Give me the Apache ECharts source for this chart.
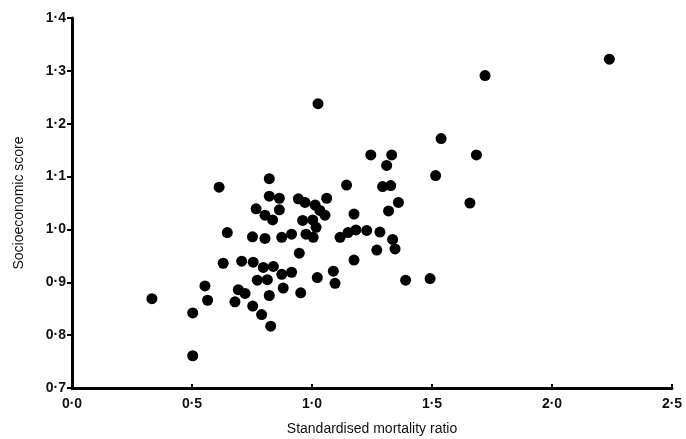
<!DOCTYPE html>
<html>
<head>
<meta charset="utf-8">
<script src="https://cdn.jsdelivr.net/npm/echarts@6/dist/echarts.min.js"></script>
<style>
    html, body { margin: 0; padding: 0; background: #fff; }
    #chart { width: 686px; height: 439px; }
</style>
</head>
<body>
<div id="chart"></div>
<script>
// standardised mortality ratio (x) vs socioeconomic score (y)
const smr = [
    0.333, 0.503, 0.503, 0.554, 0.565, 0.613, 0.630, 0.647, 0.679, 0.693,
    0.721, 0.707, 0.755, 0.752, 0.767, 0.753, 0.772, 0.790, 0.797, 0.804,
    0.804, 0.814, 0.822, 0.822, 0.822, 0.828, 0.836, 0.839, 0.864, 0.864,
    0.874, 0.874, 0.880, 0.915, 0.915, 0.943, 0.947, 0.953, 0.961, 0.971,
    0.975, 1.003, 1.005, 1.013, 1.017, 1.022, 1.025, 1.033, 1.054, 1.061,
    1.089, 1.096, 1.117, 1.144, 1.150, 1.175, 1.175, 1.183, 1.228, 1.245,
    1.270, 1.283, 1.294, 1.311, 1.319, 1.328, 1.332, 1.336, 1.346, 1.360,
    1.390, 1.492, 1.515, 1.538, 1.658, 1.685, 1.721, 2.239
]
const score = [
    0.869, 0.842, 0.761, 0.893, 0.866, 1.080, 0.936, 0.994, 0.863, 0.886,
    0.879, 0.940, 0.938, 0.986, 1.039, 0.855, 0.904, 0.839, 0.928, 1.027,
    0.983, 0.905, 1.096, 1.063, 0.875, 0.817, 1.018, 0.930, 1.059, 1.037,
    0.985, 0.915, 0.889, 0.991, 0.919, 1.058, 0.955, 0.880, 1.017, 1.051,
    0.991, 1.018, 0.985, 1.046, 1.004, 0.909, 1.238, 1.036, 1.027, 1.059,
    0.921, 0.898, 0.985, 1.084, 0.994, 1.029, 0.942, 0.999, 0.998, 1.141,
    0.961, 0.995, 1.081, 1.121, 1.035, 1.083, 1.141, 0.981, 0.963, 1.051,
    0.904, 0.907, 1.102, 1.172, 1.050, 1.141, 1.291, 1.322
]
const xTickLabels = ['0·0', '0·5', '1·0', '1·5', '2·0', '2·5']
const yTickLabels = ['0·7', '0·8', '0·9', '1·0', '1·1', '1·2', '1·3', '1·4']

const points = smr.map((v, i) => [v, score[i]])

const chart = echarts.init(document.getElementById('chart'))
const labelFont = {
    color: '#111',
    fontFamily: 'Liberation Sans, Arial, sans-serif',
    fontWeight: 'bold',
    fontSize: 14
}
const nameFont = {
    color: '#111',
    fontFamily: 'Liberation Sans, Arial, sans-serif',
    fontSize: 14
}
const option = {
    animation: false,
    grid: { left: 72, right: 14, top: 18, bottom: 51, containLabel: false, outerBoundsMode: 'none' },
    xAxis: {
        type: 'value',
        min: 0,
        max: 2.5,
        interval: 0.5,
        name: 'Standardised mortality ratio',
        nameLocation: 'middle',
        nameGap: 34,
        nameTextStyle: nameFont,
        axisLine: { lineStyle: { color: '#000', width: 3 } },
        axisTick: { show: true, inside: true, length: 4, lineStyle: { color: '#000', width: 2 } },
        splitLine: { show: false },
        axisLabel: Object.assign({}, labelFont, {
            margin: 9,
            formatter: (v) => xTickLabels[Math.round(v / 0.5)]
        })
    },
    yAxis: {
        type: 'value',
        min: 0.7,
        max: 1.4,
        interval: 0.1,
        name: 'Socioeconomic score',
        nameLocation: 'middle',
        nameRotate: 90,
        nameGap: 46,
        nameTextStyle: nameFont,
        axisLine: { lineStyle: { color: '#000', width: 3 } },
        axisTick: { show: true, length: 5, lineStyle: { color: '#000', width: 2 } },
        splitLine: { show: false },
        axisLabel: Object.assign({}, labelFont, {
            margin: 6,
            formatter: (v) => yTickLabels[Math.round((v - 0.7) / 0.1)]
        })
    },
    series: [
        {
            type: 'scatter',
            symbol: 'circle',
            symbolSize: 11,
            itemStyle: { color: '#000', opacity: 1 },
            data: points
        }
    ]
}
chart.setOption(option)
</script>
</body>
</html>
